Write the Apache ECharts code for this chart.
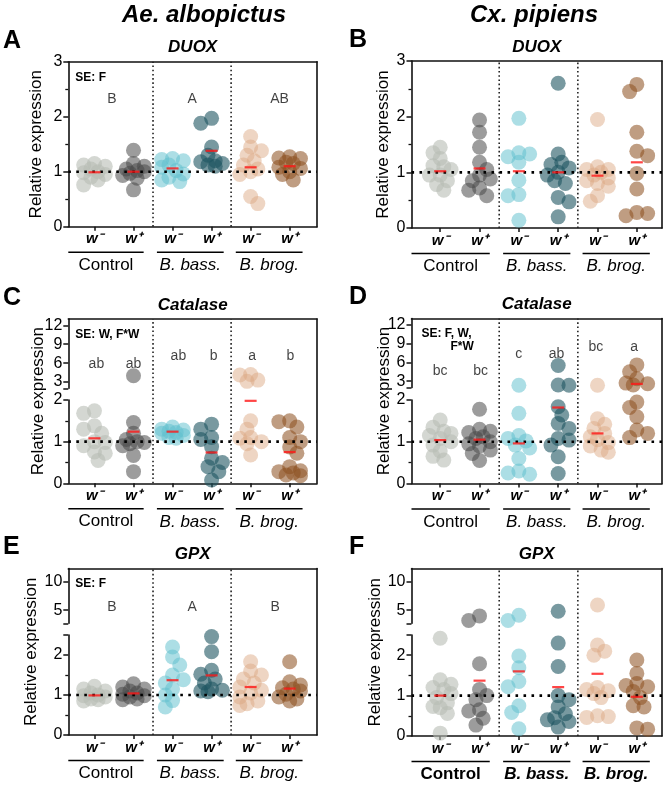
<!DOCTYPE html>
<html>
<head>
<meta charset="utf-8">
<title>ROS gene expression</title>
<script src="https://cdn.jsdelivr.net/npm/echarts@6.0.0/dist/echarts.min.js"></script>
<style>
  html, body { margin: 0; padding: 0; background: #fff; }
  #chart { width: 668px; height: 791px; }
</style>
</head>
<body>
<div id="chart"></div>
<script>
// categories
const groups = ['Control', 'B. bass.', 'B. brog.'];
const wLabels = ['w\u207B', 'w\u207A', 'w\u207B', 'w\u207A', 'w\u207B', 'w\u207A'];
const species = ['Ae. albopictus', 'Cx. pipiens'];
const panelLetters = ['A', 'B', 'C', 'D', 'E', 'F'];
const genes = ['DUOX', 'DUOX', 'Catalase', 'Catalase', 'GPX', 'GPX'];
const seTexts = [['SE: F'], [], ['SE: W, F*W'], ['SE: F, W,', 'F*W'], ['SE: F'], []];
const sigLetters = [['B', 'A', 'AB'], [], ['ab', 'ab', 'ab', 'b', 'a', 'b'],
  ['bc', 'bc', 'c', 'ab', 'bc', 'a'], ['B', 'A', 'B'], []];

// relative expression, columns: Control w-, Control w+, B.bass w-, B.bass w+, B.brog w-, B.brog w+
const duoxAe = [
  [1.15, 1.12, 1.1, 1.05, 1.0, 0.98, 0.95, 0.9, 0.85, 0.76],
  [1.39, 1.15, 1.1, 1.05, 1.02, 1.0, 0.97, 0.93, 0.88, 0.67],
  [1.24, 1.22, 1.2, 1.12, 1.08, 1.02, 0.96, 0.9, 0.85, 0.82],
  [1.97, 1.88, 1.45, 1.3, 1.2, 1.18, 1.15, 1.12, 1.1],
  [1.64, 1.45, 1.38, 1.3, 1.2, 1.12, 1.05, 1.0, 0.95, 0.55, 0.42],
  [1.27, 1.25, 1.24, 1.17, 1.15, 1.08, 1.06, 1.0, 0.95, 0.85]
];
const duoxAeMean = [0.99, 1.0, 1.06, 1.38, 1.08, 1.1];

const duoxCx = [
  [1.45, 1.35, 1.25, 1.12, 1.1, 1.05, 0.95, 0.95, 0.85, 0.78, 0.68],
  [1.94, 1.72, 1.45, 1.18, 1.05, 0.95, 0.88, 0.85, 0.72, 0.68, 0.58],
  [1.97, 1.35, 1.33, 1.28, 1.18, 0.86, 0.6, 0.58, 0.14],
  [2.6, 1.33, 1.18, 1.14, 1.08, 1.0, 0.95, 0.85, 0.8, 0.55, 0.47, 0.2],
  [1.95, 1.1, 1.05, 1.05, 1.0, 0.95, 0.9, 0.85, 0.8, 0.75, 0.58, 0.48],
  [2.58, 2.45, 1.72, 1.38, 1.3, 0.98, 0.7, 0.28, 0.26, 0.22]
];
const duoxCxMean = [1.02, 1.07, 1.02, 1.0, 0.94, 1.18];

const catAe = [
  [1.74, 1.68, 1.38, 1.3, 1.2, 1.0, 0.98, 0.9, 0.75, 0.72, 0.55],
  [4.0, 1.46, 1.2, 1.05, 1.0, 0.98, 0.95, 0.9, 0.67, 0.28],
  [1.35, 1.3, 1.28, 1.25, 1.22, 1.2, 1.15, 1.1, 1.08],
  [1.42, 1.3, 1.1, 1.05, 0.88, 0.6, 0.5, 0.4, 0.28, 0.08],
  [4.2, 4.1, 3.3, 3.1, 1.5, 1.3, 1.1, 1.08, 1.0, 0.95, 0.68],
  [1.5, 1.48, 1.35, 1.1, 1.0, 0.87, 0.72, 0.4, 0.3, 0.28, 0.25, 0.2, 0.18]
];
const catAeMean = [1.08, 1.24, 1.24, 0.74, 1.98, 0.75];

const catCx = [
  [1.52, 1.35, 1.25, 1.2, 1.15, 1.08, 1.0, 0.92, 0.78, 0.65, 0.56],
  [1.78, 1.3, 1.25, 1.22, 1.12, 1.08, 1.0, 0.95, 0.9, 0.8, 0.72, 0.55],
  [2.36, 1.68, 1.15, 1.08, 1.02, 0.92, 0.85, 0.6, 0.3, 0.25, 0.22],
  [5.5, 2.4, 2.35, 1.84, 1.64, 1.44, 1.32, 1.08, 1.04, 0.92, 0.64, 0.24],
  [2.36, 1.55, 1.42, 1.32, 1.2, 1.12, 1.05, 0.98, 0.9, 0.8, 0.75],
  [5.6, 4.5, 3.4, 2.7, 2.6, 2.4, 1.95, 1.82, 1.6, 1.28, 1.2, 1.1]
];
const catCxMean = [1.04, 1.05, 0.96, 1.82, 1.2, 2.57];

const gpxAe = [
  [1.22, 1.15, 1.1, 1.05, 1.0, 0.98, 0.95, 0.9, 0.88, 0.85],
  [1.28, 1.2, 1.15, 1.1, 1.05, 1.02, 0.98, 0.95, 0.9, 0.88],
  [2.2, 1.95, 1.75, 1.5, 1.38, 1.3, 1.15, 1.0, 0.86, 0.7],
  [2.46, 2.08, 1.62, 1.52, 1.4, 1.3, 1.15, 1.12, 1.1, 1.08],
  [1.83, 1.6, 1.5, 1.4, 1.3, 1.2, 1.12, 1.05, 0.95, 0.85, 0.78, 0.74],
  [1.83, 1.33, 1.25, 1.18, 1.15, 1.1, 1.02, 0.95, 0.9, 0.85]
];
const gpxAeMean = [0.99, 1.04, 1.37, 1.49, 1.2, 1.16];

const gpxCx = [
  [2.42, 1.39, 1.28, 1.2, 1.15, 1.05, 0.95, 0.82, 0.73, 0.7, 0.56, 0.07],
  [4.0, 3.2, 1.79, 1.15, 1.0, 0.9, 0.65, 0.62, 0.44, 0.27],
  [4.1, 3.2, 1.98, 1.69, 1.35, 1.22, 0.75, 0.58, 0.18],
  [4.8, 2.3, 1.72, 1.0, 0.9, 0.72, 0.55, 0.45, 0.4, 0.36, 0.22],
  [5.9, 2.25, 2.1, 2.0, 1.2, 1.15, 1.12, 1.05, 0.95, 0.5, 0.48, 0.46],
  [1.88, 1.55, 1.3, 1.25, 1.22, 1.1, 0.95, 0.75, 0.72, 0.2, 0.17]
];
const gpxCxMean = [1.0, 1.37, 1.6, 1.21, 1.54, 0.97];

const allData = [duoxAe, duoxCx, catAe, catCx, gpxAe, gpxCx];
const allMeans = [duoxAeMean, duoxCxMean, catAeMean, catCxMean, gpxAeMean, gpxCxMean];

// ---- layout / styling ----
const FONT = '"Liberation Sans", Arial, Helvetica, sans-serif';
const dotColors = ['rgba(184,189,180,0.75)', 'rgba(72,72,72,0.68)', 'rgba(96,192,205,0.65)',
  'rgba(30,85,96,0.75)', 'rgba(219,168,130,0.6)', 'rgba(140,80,32,0.7)'];
const INK = '#111';
const axisLine = { show: true, onZero: false, lineStyle: { color: INK, width: 1.6 } };

const lowA = { major: [0, 1, 2, 3], minor: [0.5, 1.5, 2.5], labels: [0, 1, 2, 3] };
const layout = [
  { left: 68.3, right: 317, top: 61.7, bottom: 226.7, xr: [0.33, 6.7], nameX: 36,
    segs: [Object.assign({ min: 0, max: 3, top: 61.7, bottom: 226.7 }, lowA)] },
  { left: 411.5, right: 662, top: 61, bottom: 228, xr: [0.27, 6.64], nameX: 383,
    segs: [Object.assign({ min: 0, max: 3, top: 61, bottom: 228 }, lowA)] },
  { left: 68.3, right: 317, top: 319, bottom: 483.3, xr: [0.33, 6.7], nameX: 38,
    segs: [{ min: 0, max: 2, top: 400, bottom: 483.3, major: [0, 1, 2], minor: [0.5, 1.5], labels: [0, 1, 2] },
           { min: 2, max: 13, top: 319, bottom: 388.3, major: [2, 3, 6, 9, 12], minor: [], labels: [3, 6, 9, 12] }] },
  { left: 411.5, right: 662, top: 318.5, bottom: 483.5, xr: [0.27, 6.64], nameX: 384,
    segs: [{ min: 0, max: 2, top: 400, bottom: 483.5, major: [0, 1, 2], minor: [0.5, 1.5], labels: [0, 1, 2] },
           { min: 2, max: 13, top: 318.5, bottom: 387.5, major: [2, 3, 6, 9, 12], minor: [], labels: [3, 6, 9, 12] }] },
  { left: 68.3, right: 317, top: 568.5, bottom: 735, xr: [0.33, 6.7], nameX: 31,
    segs: [{ min: 0, max: 2.5, top: 635, bottom: 735, major: [0, 1, 2, 2.5], minor: [0.5, 1.5], labels: [0, 1, 2] },
           { min: 2.7, max: 12.3, top: 568.5, bottom: 623.3, major: [2.7, 5, 10], minor: [], labels: [5, 10] }] },
  { left: 411.5, right: 662, top: 568.5, bottom: 736, xr: [0.27, 6.64], nameX: 375,
    segs: [{ min: 0, max: 2.5, top: 635, bottom: 736, major: [0, 1, 2, 2.5], minor: [0.5, 1.5], labels: [0, 1, 2] },
           { min: 2.7, max: 12.3, top: 568.5, bottom: 623.3, major: [2.7, 5, 10], minor: [], labels: [5, 10] }] }
];
// where the significance letters sit: [x, y, segment]
const sigPos = [
  [[1.45, 2.32, 0], [3.5, 2.32, 0], [5.74, 2.32, 0]],
  [],
  [[1.05, 5.8, 1], [2.0, 5.8, 1], [3.15, 7.1, 1], [4.05, 7.1, 1], [5.04, 7.1, 1], [6.02, 7.1, 1]],
  [[1.0, 4.6, 1], [2.03, 4.6, 1], [3.0, 7.35, 1], [3.96, 7.35, 1], [4.96, 8.4, 1], [5.93, 8.4, 1]],
  [[1.45, 5.6, 1], [3.5, 5.6, 1], [5.63, 5.6, 1]],
  []
];
const seX = [7, 0, 7, 10, 7, 0];
const dividers = [2.5, 4.5];
const spanEnds = [2.26, 2.6, 4.31, 4.62, 6.33];

// spread overlapping dots sideways (pixel offsets)
function swarm(yPix) {
  const order = yPix.map((v, i) => i).sort((a, b) => yPix[a] - yPix[b]);
  const placed = [];
  const off = new Array(yPix.length).fill(0);
  const cands = [0];
  for (let k = 1; k <= 3; k++) cands.push(k * 3.6, -k * 3.6);
  order.forEach((i, n) => {
    let best = 0, bestD = -1;
    for (const c0 of cands) {
      const c = n % 2 ? -c0 : c0;
      let d = Infinity;
      placed.forEach(p => { d = Math.min(d, Math.hypot(p[0] - c, p[1] - yPix[i])); });
      if (d >= 9) { best = c; break; }
      if (d > bestD) { bestD = d; best = c; }
    }
    off[i] = best;
    placed.push([best, yPix[i]]);
  });
  return off;
}

const grids = [], xAxes = [], yAxes = [], series = [];
const lowerX = [];
const hidden = { axisLine: { show: false }, axisTick: { show: false }, axisLabel: { show: false }, splitLine: { show: false } };

layout.forEach((L, p) => {
  const W = L.right - L.left;
  const pxPerX = W / (L.xr[1] - L.xr[0]);
  const groupSpans = [[L.xr[0], spanEnds[0]], [spanEnds[1], spanEnds[2]], [spanEnds[3], spanEnds[4]]];
  L.spans = groupSpans;
  const groupCenters = groupSpans.map(s => (s[0] + s[1]) / 2);

  // frame: top and right border, dotted dividers
  const fg = grids.length;
  grids.push({ left: L.left, top: L.top, width: W, height: L.bottom - L.top, containLabel: false, outerBoundsMode: 'none' });
  const fx = xAxes.length;
  xAxes.push(Object.assign({}, hidden, { gridIndex: fg, type: 'value', position: 'top', min: L.xr[0], max: L.xr[1], axisLine: axisLine }));
  const fy = yAxes.length;
  yAxes.push(Object.assign({}, hidden, { gridIndex: fg, type: 'value', position: 'right', min: 0, max: 1, axisLine: axisLine }));
  dividers.forEach(d => series.push({
    type: 'line', xAxisIndex: fx, yAxisIndex: fy, data: [[d, 0], [d, 1]], symbol: 'none', silent: true, z: 1,
    lineStyle: { color: '#222', width: 1.6, type: [1.6, 2.6] }
  }));

  const segOf = v => (L.segs.length > 1 && v > L.segs[0].max) ? 1 : 0;
  const yPixOf = v => { const s = L.segs[segOf(v)]; return s.bottom - (v - s.min) / (s.max - s.min) * (s.bottom - s.top); };

  const segAx = L.segs.map((s, si) => {
    const g = grids.length;
    grids.push({ left: L.left, top: s.top, width: W, height: s.bottom - s.top, containLabel: false, outerBoundsMode: 'none' });
    const xi = xAxes.length;
    if (si === 0) {
      lowerX[p] = xi;
      xAxes.push({
        gridIndex: g, type: 'value', position: 'bottom', min: L.xr[0], max: L.xr[1], axisLine: axisLine,
        splitLine: { show: false },
        axisTick: { show: true, inside: false, length: 4, customValues: [1, 2, 3, 4, 5, 6], lineStyle: { color: INK, width: 1.5 } },
        axisLabel: {
          show: true, customValues: [1, 2, 3, 4, 5, 6], margin: 5, color: '#000', fontFamily: FONT,
          fontSize: 15, fontWeight: 'bold', fontStyle: 'italic',
          formatter: v => wLabels[Math.round(v) - 1]
        }
      });
      xAxes.push(Object.assign({}, hidden, {
        gridIndex: g, type: 'value', position: 'bottom', min: L.xr[0], max: L.xr[1],
        axisLabel: {
          show: true, customValues: groupCenters, margin: 30, color: '#000', fontFamily: FONT, fontSize: 17,
          fontWeight: p === 5 ? 'bold' : 'normal',
          formatter: v => {
            const k = groupCenters.findIndex(c => Math.abs(c - v) < 1e-6);
            return k === 0 ? '{n|' + groups[k] + '}' : '{i|' + groups[k] + '}';
          },
          rich: {
            n: { fontFamily: FONT, fontSize: 17, fontWeight: p === 5 ? 'bold' : 'normal', color: '#000' },
            i: { fontFamily: FONT, fontSize: 17, fontStyle: 'italic', fontWeight: p === 5 ? 'bold' : 'normal', color: '#000' }
          }
        }
      }));
    } else {
      xAxes.push(Object.assign({}, hidden, { gridIndex: g, type: 'value', show: false, min: L.xr[0], max: L.xr[1] }));
    }
    const yi = yAxes.length;
    yAxes.push({
      gridIndex: g, type: 'value', position: 'left', min: s.min, max: s.max, axisLine: axisLine,
      splitLine: { show: false },
      axisTick: { show: true, length: 5, customValues: s.major, lineStyle: { color: INK, width: 1.5 } },
      axisLabel: { show: true, customValues: s.labels, margin: 6, color: '#000', fontFamily: FONT, fontSize: 16 }
    });
    yAxes.push(Object.assign({}, hidden, {
      gridIndex: g, type: 'value', position: 'left', offset: 0, min: s.min, max: s.max,
      axisTick: { show: s.minor.length > 0, length: 3, customValues: s.minor.length ? s.minor : [s.min], lineStyle: { color: INK, width: 1.3 } }
    }));
    return { xi: xi, yi: yi };
  });

  const cols = allData[p];
  cols.forEach((vals, c) => {
    const off = swarm(vals.map(yPixOf));
    L.segs.forEach((s, si) => {
      const pts = [];
      vals.forEach((v, k) => { if (segOf(v) === si) pts.push([c + 1 + off[k] / pxPerX, v]); });
      if (!pts.length) return;
      series.push({
        type: 'scatter', xAxisIndex: segAx[si].xi, yAxisIndex: segAx[si].yi, data: pts, clip: false,
        symbol: 'circle', symbolSize: 15, silent: true, z: 3,
        itemStyle: { color: dotColors[c], borderWidth: 0 }
      });
    });
  });

  // reference line at 1
  series.push({
    type: 'line', xAxisIndex: segAx[0].xi, yAxisIndex: segAx[0].yi, data: [[L.xr[0], 1], [L.xr[1], 1]],
    symbol: 'none', silent: true, z: 4, lineStyle: { color: '#000', width: 2.6, type: [2.6, 5.4] }
  });

  // means
  allMeans[p].forEach((m, c) => {
    const si = segOf(m);
    series.push({
      type: 'scatter', xAxisIndex: segAx[si].xi, yAxisIndex: segAx[si].yi, data: [[c + 1, m]], clip: false,
      symbol: 'rect', symbolSize: [12, 2.2], silent: true, z: 5, itemStyle: { color: '#ff1616' }
    });
  });

  // significance letters
  sigLetters[p].forEach((t, k) => {
    const pos = sigPos[p][k];
    series.push({
      type: 'scatter', xAxisIndex: segAx[pos[2]].xi, yAxisIndex: segAx[pos[2]].yi, silent: true, z: 6,
      data: [{ value: [pos[0], pos[1]], name: t }], symbolSize: 1, itemStyle: { color: 'rgba(0,0,0,0)' },
      label: { show: true, position: 'inside', formatter: '{b}', color: '#111', fontFamily: FONT, fontSize: 14 }
    });
  });
});

const chart = echarts.init(document.getElementById('chart'), null, { renderer: 'canvas' });
chart.setOption({ animation: false, backgroundColor: '#fff', grid: grids, xAxis: xAxes, yAxis: yAxes, series: series });

function text(x, y, str, size, o) {
  o = o || {};
  return {
    type: 'text', x: x, y: y, rotation: o.rotation || 0, silent: true, z: 10,
    style: {
      text: str, fill: '#000', fontFamily: FONT, fontSize: size,
      fontWeight: o.bold ? 'bold' : 'normal', fontStyle: o.italic ? 'italic' : 'normal',
      align: o.align || 'center', verticalAlign: 'middle',
      textAlign: o.align || 'center', textVerticalAlign: 'middle'
    }
  };
}

const graphics = [];
graphics.push(text(204, 15, species[0], 24, { bold: true, italic: true }));
graphics.push(text(534, 15, species[1], 24, { bold: true, italic: true }));
layout.forEach((L, p) => {
  const leftCol = p % 2 === 0;
  graphics.push(text(leftCol ? 3 : 349, L.top - 21, panelLetters[p], 25, { bold: true, align: 'left' }));
  graphics.push(text((L.left + L.right) / 2, L.top - 14, genes[p], 17, { bold: true, italic: true }));
  graphics.push(text(L.nameX, (L.top + L.bottom) / 2, 'Relative expression', 17, { rotation: Math.PI / 2 }));
  seTexts[p].forEach((t, k) => {
    graphics.push(text(L.left + seX[p] + (k ? 29 : 0), L.top + 15.5 + k * 13, t, 12, { bold: true, align: 'left' }));
  });
  L.spans.forEach(sp => {
    const x1 = chart.convertToPixel({ xAxisIndex: lowerX[p] }, sp[0]);
    const x2 = chart.convertToPixel({ xAxisIndex: lowerX[p] }, sp[1]);
    graphics.push({ type: 'line', silent: true, shape: { x1: x1, y1: L.bottom + 25.5, x2: x2, y2: L.bottom + 25.5 },
      style: { stroke: '#000', lineWidth: 1.5 } });
  });
});
chart.setOption({ graphic: graphics });
</script>
</body>
</html>
